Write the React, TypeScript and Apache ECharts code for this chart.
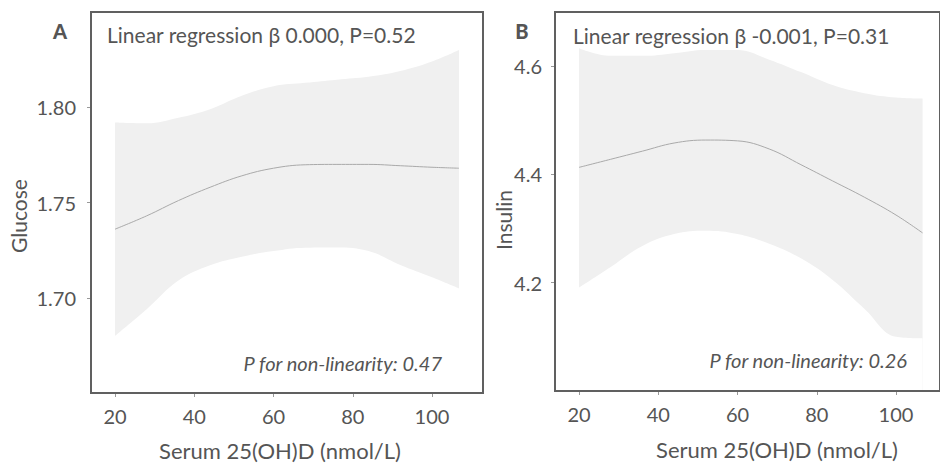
import React, { useEffect, useRef } from "react";
import * as echarts from "echarts";

// Panel A (Glucose)
const xA = [20, 28, 36, 44, 52, 60, 68, 76, 84, 92, 100, 106.8];
const fitA = [1.736, 1.743, 1.751, 1.758, 1.764, 1.768, 1.7698, 1.770, 1.770, 1.7693, 1.7685, 1.768];
const upperA = [1.792, 1.7916, 1.7945, 1.799, 1.806, 1.811, 1.8128, 1.8145, 1.816, 1.819, 1.824, 1.830];
const lowerA = [1.680, 1.694, 1.709, 1.717, 1.7215, 1.7245, 1.7263, 1.7264, 1.7245, 1.7172, 1.7108, 1.705];

// Panel B (Insulin)
const xB = [20, 28, 36, 44, 52, 60, 68, 76, 84, 92, 100, 106.7];
const fitB = [4.413, 4.428, 4.443, 4.458, 4.4635, 4.462, 4.447, 4.418, 4.388, 4.358, 4.325, 4.292];
const upperB = [4.633, 4.619, 4.619, 4.624, 4.630, 4.630, 4.612, 4.589, 4.565, 4.550, 4.542, 4.540];
const lowerB = [4.191, 4.229, 4.268, 4.290, 4.296, 4.290, 4.272, 4.245, 4.205, 4.152, 4.100, 4.097];

const xTicks = [20, 40, 60, 80, 100];
const yTicksA = [1.7, 1.75, 1.8];
const yTicksB = [4.2, 4.4, 4.6];

const titleA = "Linear regression \u03b2 0.000, P=0.52";
const titleB = "Linear regression \u03b2 -0.001, P=0.31";
const nonlinA = "P for non-linearity: 0.47";
const nonlinB = "P for non-linearity: 0.26";
const xName = "Serum 25(OH)D (nmol/L)";

const FONT = "Lato, 'Open Sans', sans-serif";
const TXT = "#555555";
const BAND = "#f0f0f0";
const LINE = "#a9a9a9";
const BOX = "#606060";

function pairs(xs: number[], ys: number[]) {
  return xs.map((x, i) => [x, ys[i]]);
}

export default function App() {
  const ref = useRef<HTMLDivElement>(null);
  useEffect(() => {
    document.body.style.margin = "0";
    if (!ref.current) return;
    const chart = echarts.init(ref.current, undefined, { renderer: "svg" });

    const xAxisBase = (gridIndex: number, max: number) => ({
      type: "value",
      gridIndex,
      min: 13.94,
      max,
      axisLine: { show: false },
      splitLine: { show: false },
      axisTick: { show: true, length: 4, lineStyle: { color: "#999" }, customValues: xTicks },
      axisLabel: {
        customValues: xTicks,
        color: TXT,
        fontSize: 20,
        fontFamily: FONT,
        margin: 13,
        formatter: (v: number) => String(v),
      },
    });

    const yAxisBase = (gridIndex: number, min: number, max: number, ticks: number[], dec: number, margin: number) => ({
      type: "value",
      gridIndex,
      min,
      max,
      axisLine: { show: false },
      splitLine: { show: false },
      axisTick: { show: true, length: 4, lineStyle: { color: "#999" }, customValues: ticks },
      axisLabel: {
        customValues: ticks,
        color: TXT,
        fontSize: 20,
        fontFamily: FONT,
        margin,
        formatter: (v: number) => v.toFixed(dec),
      },
    });

    const areaSeries = (idx: number, xs: number[], ys: number[], color: string, z: number) => ({
      type: "line",
      xAxisIndex: idx,
      yAxisIndex: idx,
      data: pairs(xs, ys),
      smooth: 0.4,
      symbol: "none",
      lineStyle: { width: 0, opacity: 0 },
      areaStyle: { color, opacity: 1, origin: "start" },
      silent: true,
      z,
    });

    const fitSeries = (idx: number, xs: number[], ys: number[]) => ({
      type: "line",
      xAxisIndex: idx,
      yAxisIndex: idx,
      data: pairs(xs, ys),
      smooth: 0.4,
      symbol: "none",
      lineStyle: { color: LINE, width: 1 },
      silent: true,
      z: 4,
    });

    const txt = (x: number, y: number, text: string, extra: any = {}) => ({
      type: "text",
      x,
      y,
      z: 100,
      silent: true,
      style: {
        text,
        fill: TXT,
        font: `21px ${FONT}`,
        textVerticalAlign: "middle",
        ...extra,
      },
    });

    chart.setOption({
      animation: false,
      grid: [
        { left: 91, top: 12, width: 392, height: 381, show: true, z: 10, borderColor: BOX, borderWidth: 2, backgroundColor: "transparent" },
        { left: 555, top: 12, width: 385, height: 379, show: true, z: 10, borderColor: BOX, borderWidth: 2, backgroundColor: "transparent" },
      ],
      xAxis: [xAxisBase(0, 112.87), xAxisBase(1, 111.1)],
      yAxis: [
        yAxisBase(0, 1.65, 1.85, yTicksA, 2, 15),
        yAxisBase(1, 4.0, 4.7, yTicksB, 1, 13),
      ],
      series: [
        areaSeries(0, xA, upperA, BAND, 1),
        areaSeries(0, xA, lowerA, "#ffffff", 2),
        fitSeries(0, xA, fitA),
        areaSeries(1, xB, upperB, BAND, 1),
        areaSeries(1, xB, lowerB, "#ffffff", 2),
        fitSeries(1, xB, fitB),
      ],
      graphic: [
        txt(60, 31, "A", { font: `900 20px ${FONT}`, textAlign: "center" }),
        txt(522, 31, "B", { font: `900 20px ${FONT}`, textAlign: "center" }),
        txt(107, 34, titleA),
        txt(573, 35, titleB),
        txt(442, 363, nonlinA, { font: `italic 20px ${FONT}`, textAlign: "right" }),
        txt(907, 360, nonlinB, { font: `italic 20px ${FONT}`, textAlign: "right" }),
        txt(280, 450, xName, { font: `22px ${FONT}`, textAlign: "center" }),
        txt(777, 449, xName, { font: `22px ${FONT}`, textAlign: "center" }),
        {
          type: "text",
          x: 18,
          y: 216,
          z: 100,
          rotation: Math.PI / 2,
          silent: true,
          style: { text: "Glucose", fill: TXT, font: `21px ${FONT}`, textAlign: "center", textVerticalAlign: "middle" },
        },
        {
          type: "text",
          x: 503,
          y: 220,
          z: 100,
          rotation: Math.PI / 2,
          silent: true,
          style: { text: "Insulin", fill: TXT, font: `21px ${FONT}`, textAlign: "center", textVerticalAlign: "middle" },
        },
      ],
    });
    return () => chart.dispose();
  }, []);
  return <div ref={ref} style={{ width: 940, height: 463 }} />;
}
